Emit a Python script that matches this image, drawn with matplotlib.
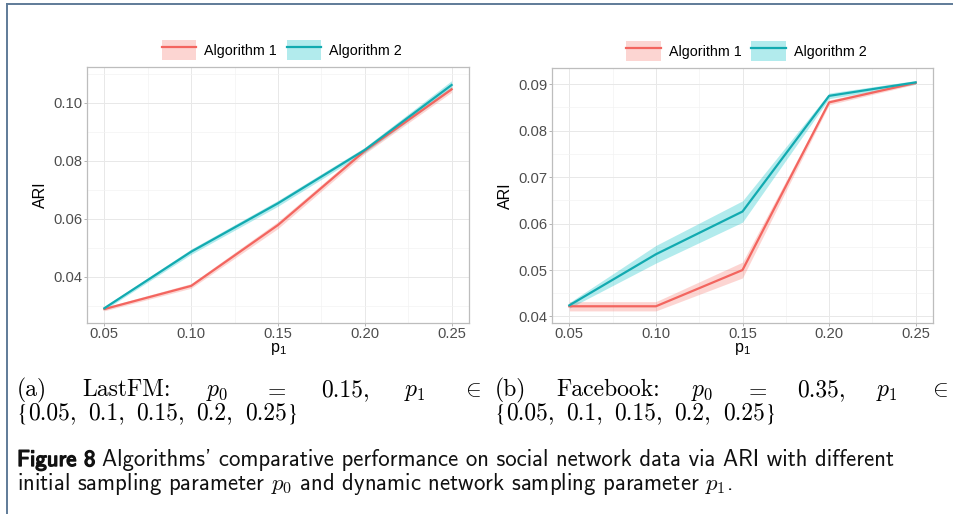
import matplotlib
matplotlib.use("Agg")
import matplotlib.pyplot as plt
import matplotlib.patheffects as pe
from matplotlib.lines import Line2D
from matplotlib.patches import Patch
from matplotlib.ticker import MultipleLocator, FormatStrFormatter
import numpy as np

plt.rcParams['mathtext.fontset'] = 'cm'

p1 = [0.05, 0.10, 0.15, 0.20, 0.25]
series_names = ['Algorithm 1', 'Algorithm 2']

# LastFM, p0 = 0.15
lastfm_alg1 = [0.0288, 0.0368, 0.0578, 0.0834, 0.1046]
lastfm_alg1_se = [0.0006, 0.0008, 0.0012, 0.0010, 0.0010]
lastfm_alg2 = [0.0291, 0.0486, 0.0653, 0.0837, 0.1061]
lastfm_alg2_se = [0.0006, 0.0009, 0.0010, 0.0009, 0.0015]

# Facebook, p0 = 0.35
fb_alg1 = [0.0422, 0.0422, 0.0500, 0.0861, 0.0903]
fb_alg1_se = [0.0010, 0.0010, 0.0017, 0.0005, 0.0003]
fb_alg2 = [0.0424, 0.0534, 0.0626, 0.0875, 0.0904]
fb_alg2_se = [0.0006, 0.0019, 0.0023, 0.0006, 0.0004]

set_values = ['0.05,', '0.1,', '0.15,', '0.2,', '0.25']

fill_colors = ['#F8766D', '#00BFC4']
line_colors = ['#F3655F', '#12AAB0']

W, H = 954, 514


def fx(x):
    return x / W


def fy(y):
    return 1 - y / H


fig = plt.figure(figsize=(W / 100, H / 100), dpi=100)
ax1 = fig.add_axes([fx(87), fy(323), fx(469) - fx(87), fy(67) - fy(323)])
ax2 = fig.add_axes([fx(552), fy(323), fx(933) - fx(552), fy(68) - fy(323)])

tick_font = 'Liberation Sans'


def draw_panel(ax, data, ylim, ymajor):
    for (mean, se), fc, lc in zip(data, fill_colors, line_colors):
        mean = np.array(mean)
        se = np.array(se)
        ax.fill_between(p1, mean - se, mean + se, color=fc, alpha=0.3, lw=0, zorder=2)
        ax.plot(p1, mean, color=lc, lw=1.6, zorder=3)
    ax.set_xlim(0.04, 0.26)
    ax.set_ylim(*ylim)
    ax.xaxis.set_major_locator(MultipleLocator(0.05))
    ax.xaxis.set_minor_locator(MultipleLocator(0.025))
    ax.yaxis.set_major_locator(MultipleLocator(ymajor))
    ax.yaxis.set_minor_locator(MultipleLocator(ymajor / 2))
    ax.xaxis.set_major_formatter(FormatStrFormatter('%.2f'))
    ax.yaxis.set_major_formatter(FormatStrFormatter('%.2f'))
    ax.grid(which='major', color='#E8E8E8', lw=0.7, zorder=0)
    ax.grid(which='minor', color='#F3F3F3', lw=0.5, zorder=0)
    ax.set_axisbelow(True)
    for s in ax.spines.values():
        s.set_color('#BDBDBD')
        s.set_linewidth(0.9)
    ax.tick_params(which='major', length=2, width=0.7, color='#B3B3B3',
                   labelcolor='#4D4D4D', labelsize=10.6, pad=1.2)
    ax.tick_params(which='minor', length=0)
    for lab in ax.get_xticklabels() + ax.get_yticklabels():
        lab.set_family(tick_font)
    ax.set_ylabel('ARI', family=tick_font, fontsize=11.5, labelpad=4)
    ax.set_xlabel(r'$\mathregular{p_1}$', family=tick_font, fontsize=11.5, labelpad=0)

    handles = [(Patch(facecolor=fc, alpha=0.3, edgecolor='none'),
                Line2D([], [], color=lc, lw=1.6))
               for fc, lc in zip(fill_colors, line_colors)]
    ax.legend(handles, series_names, loc='lower center', bbox_to_anchor=(0.51, 1.0),
              ncol=2, frameon=False, prop={'family': tick_font, 'size': 10.3},
              handlelength=2.4, handleheight=1.75, handletextpad=0.55,
              columnspacing=0.7, borderaxespad=0.5, borderpad=0)


draw_panel(ax1, [(lastfm_alg1, lastfm_alg1_se), (lastfm_alg2, lastfm_alg2_se)],
           (0.024, 0.1123), 0.02)
draw_panel(ax2, [(fb_alg1, fb_alg1_se), (fb_alg2, fb_alg2_se)],
           (0.0386, 0.0935), 0.01)

renderer = fig.canvas.get_renderer()
cap_serif = 17


def make_text(s, size, family=None):
    kw = {}
    if family:
        kw['family'] = family
    return fig.text(0, 0, s, fontsize=size, va='baseline', ha='left', **kw)


def justified(pieces, x0, x1, y, size=cap_serif, gaps=None):
    # pieces: (text, family); gaps: which joins may stretch
    texts = [make_text(s, size, fam) for s, fam in pieces]
    widths = [t.get_window_extent(renderer).width for t in texts]
    if gaps is None:
        gaps = [True] * (len(texts) - 1)
    gap = (x1 - x0 - sum(widths)) / sum(gaps)
    x = x0
    for i, (t, w) in enumerate(zip(texts, widths)):
        t.set_position((fx(x), fy(y)))
        x += w + (gap if i < len(gaps) and gaps[i] else 0)


def caption_line(words):
    return [(s, None if '$' in s else 'cmr10') for s in words]


# subfigure captions
justified(caption_line(['(a)', 'LastFM:', r'$p_0$', r'$=$', '0.15,', r'$p_1$', r'$\in$']),
          17, 481, 396)
justified(caption_line(['(b)', 'Facebook:', r'$p_0$', r'$=$', '0.35,', r'$p_1$', r'$\in$']),
          495, 948, 396)
set_pieces = ([('{', 'STIXGeneral')] + [(v, 'cmr10') for v in set_values]
              + [('}', 'STIXGeneral')])
set_gaps = [False] + [True] * (len(set_values) - 1) + [False]
for x0 in (17, 495):
    justified(set_pieces, x0, x0 + 281, 419, gaps=set_gaps)

# figure caption
cap_size = 16.4
cap_color = '#111111'
t_fig = fig.text(fx(17), fy(466), 'Figure 8', family='cmss10', fontsize=cap_size,
                 va='baseline', color=cap_color,
                 path_effects=[pe.withStroke(linewidth=1.0, foreground=cap_color)])
w_fig = t_fig.get_window_extent(renderer).width
fig.text(fx(17 + w_fig + 7), fy(466),
         "Algorithms' comparative performance on social network data via ARI with different",
         family=['cmss10', 'DejaVu Sans'], fontsize=cap_size, va='baseline', color=cap_color)
fig.text(fx(17), fy(490),
         r'initial sampling parameter $p_0$ and dynamic network sampling parameter $p_1$.',
         family='cmss10', fontsize=cap_size, va='baseline', color=cap_color)

# page frame
frame_color = '#5F7B98'
fig.add_artist(Line2D([fx(7.5), fx(7.5)], [0, fy(4)], transform=fig.transFigure,
                      color=frame_color, lw=1.4))
fig.add_artist(Line2D([fx(7.5), 1], [fy(4), fy(4)], transform=fig.transFigure,
                      color=frame_color, lw=1.4))

fig.savefig('out.png', dpi=100)
